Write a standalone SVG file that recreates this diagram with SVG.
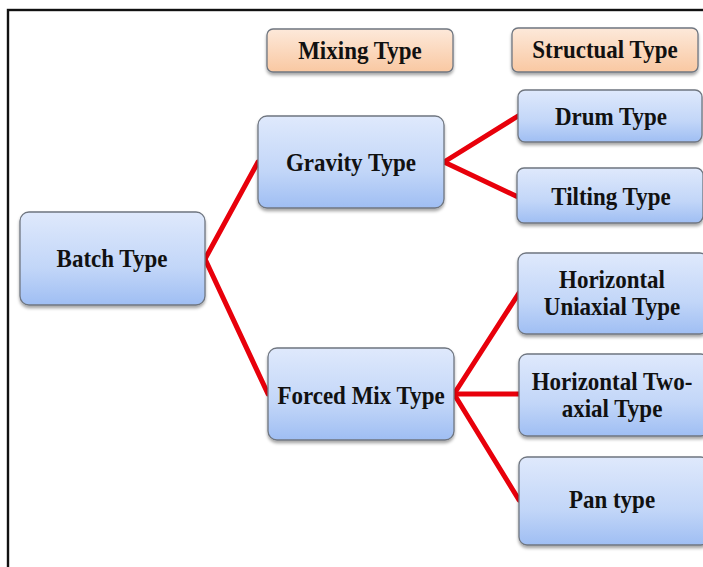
<svg xmlns="http://www.w3.org/2000/svg" width="703" height="567" viewBox="0 0 703 567">
<defs>
<linearGradient id="gBlue" x1="0" y1="0" x2="0" y2="1">
<stop offset="0" stop-color="#dfe9fc"/>
<stop offset="0.6" stop-color="#c2d6f8"/>
<stop offset="1" stop-color="#9fbef3"/>
</linearGradient>
<linearGradient id="gPeach" x1="0" y1="0" x2="0" y2="1">
<stop offset="0" stop-color="#fde9da"/>
<stop offset="1" stop-color="#f9c8a2"/>
</linearGradient>
<filter id="sh" x="-10%" y="-10%" width="120%" height="130%">
<feDropShadow dx="0" dy="2.5" stdDeviation="1.6" flood-color="#000" flood-opacity="0.35"/>
</filter>
</defs>
<style>
.box{fill:url(#gBlue);stroke:#6f7680;stroke-width:1.3;filter:url(#sh)}
.hdr{fill:url(#gPeach);stroke:#6f7680;stroke-width:1.3;filter:url(#sh)}
.t{font-family:"Liberation Serif","Times New Roman",serif;font-weight:bold;font-size:23px;fill:#111;text-anchor:middle}
.c{stroke:#e8000b;stroke-width:5;fill:none;stroke-linecap:round}
</style>
<rect x="0" y="0" width="703" height="567" fill="#fff"/>
<rect x="8" y="10" width="720" height="600" fill="none" stroke="#111" stroke-width="2.4"/>

<g id="connectors">
<line class="c" x1="205" y1="259" x2="258" y2="162"/>
<line class="c" x1="205" y1="259" x2="268" y2="394"/>
<line class="c" x1="444" y1="162" x2="518" y2="116"/>
<line class="c" x1="444" y1="162" x2="518" y2="197"/>
<line class="c" x1="454" y1="394" x2="519" y2="293"/>
<line class="c" x1="454" y1="394" x2="519" y2="394"/>
<line class="c" x1="454" y1="394" x2="519" y2="500"/>
</g>

<g id="mixing-type">
<rect class="hdr" x="267" y="29" width="186" height="43" rx="6"/>
<text class="t" transform="translate(360 59) scale(1 1.1)">Mixing Type</text>
</g>
<g id="structual-type">
<rect class="hdr" x="512" y="28" width="186" height="44" rx="6"/>
<text class="t" transform="translate(605 58) scale(1 1.1)">Structual Type</text>
</g>
<g id="batch-type">
<rect class="box" x="20" y="212" width="185" height="93" rx="9"/>
<text class="t" transform="translate(112 267) scale(1 1.1)">Batch Type</text>
</g>
<g id="gravity-type">
<rect class="box" x="258" y="116" width="186" height="92" rx="9"/>
<text class="t" transform="translate(351 171) scale(1 1.1)">Gravity Type</text>
</g>
<g id="forced-mix-type">
<rect class="box" x="268" y="348" width="186" height="92" rx="9"/>
<text class="t" transform="translate(361 404) scale(1 1.1)">Forced Mix Type</text>
</g>
<g id="drum-type">
<rect class="box" x="518" y="90" width="184" height="52" rx="7"/>
<text class="t" transform="translate(611 125) scale(1 1.1)">Drum Type</text>
</g>
<g id="tilting-type">
<rect class="box" x="517" y="168" width="186" height="55" rx="7"/>
<text class="t" transform="translate(611 205) scale(1 1.1)">Tilting Type</text>
</g>
<g id="horizontal-uniaxial-type">
<rect class="box" x="518" y="253" width="190" height="81" rx="8"/>
<text class="t" transform="translate(612 288) scale(1 1.1)">Horizontal</text>
<text class="t" transform="translate(612 315) scale(1 1.1)">Uniaxial Type</text>
</g>
<g id="horizontal-two-axial-type">
<rect class="box" x="519" y="354" width="190" height="82" rx="8"/>
<text class="t" transform="translate(612 390) scale(1 1.1)">Horizontal Two-</text>
<text class="t" transform="translate(612 417) scale(1 1.1)">axial Type</text>
</g>
<g id="pan-type">
<rect class="box" x="519" y="457" width="190" height="88" rx="8"/>
<text class="t" transform="translate(612 508) scale(1 1.1)">Pan type</text>
</g>
</svg>
